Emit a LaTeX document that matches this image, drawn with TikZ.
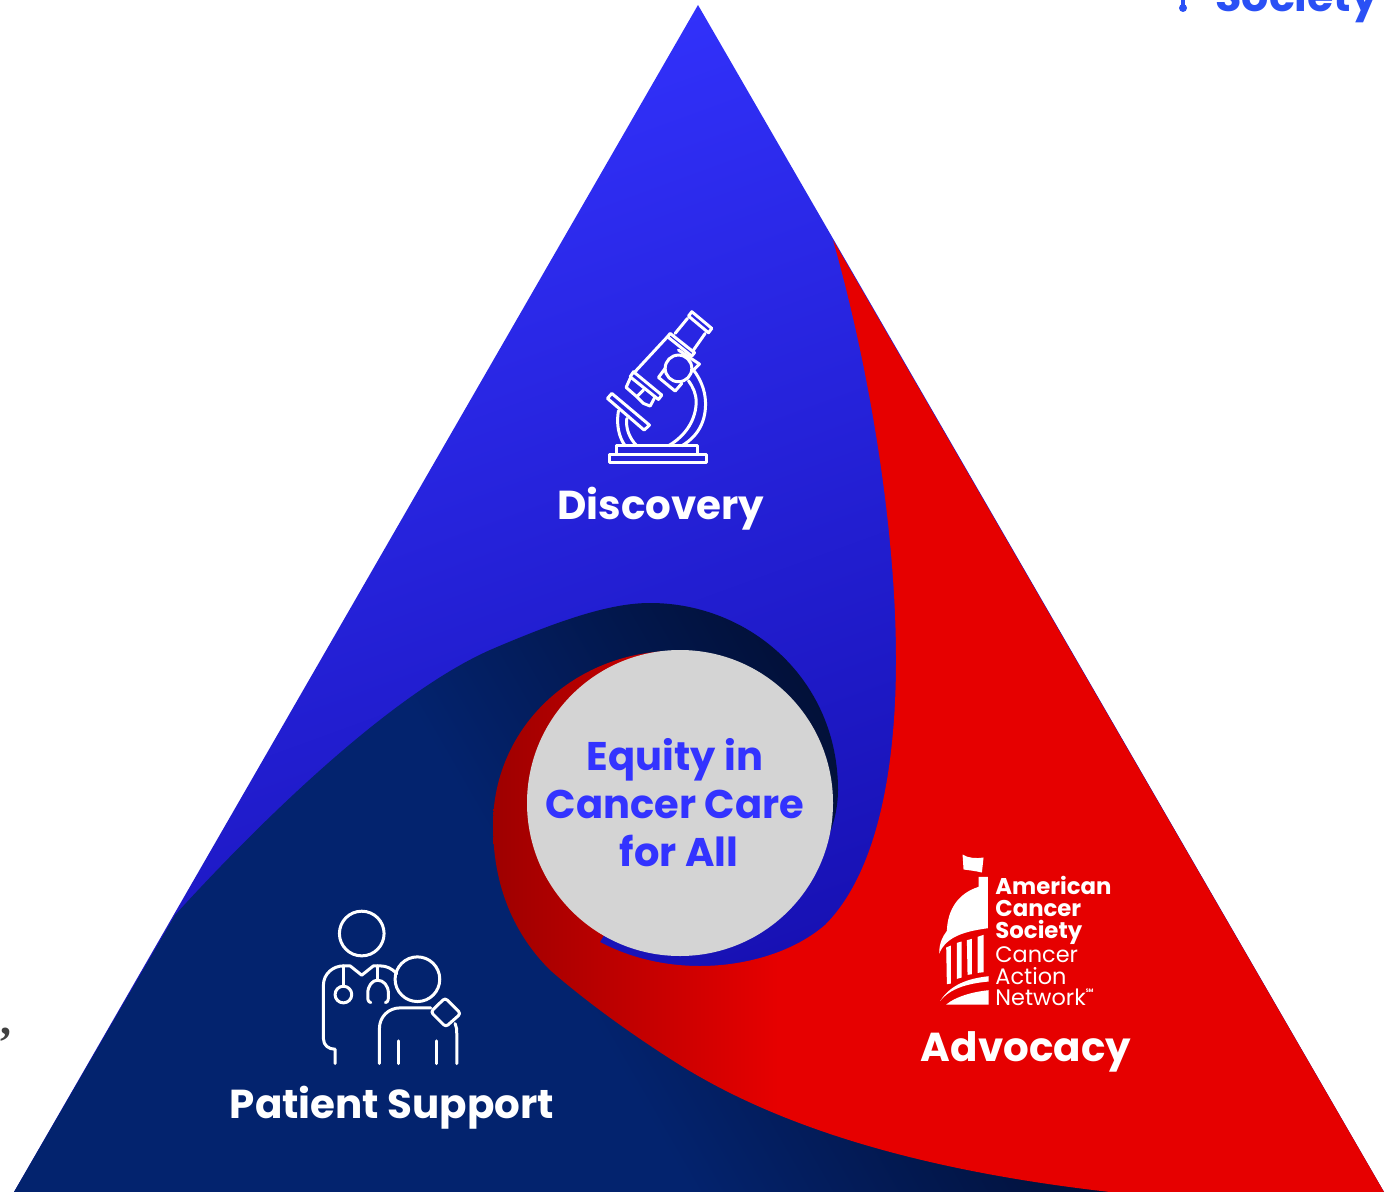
\documentclass[tikz,border=0pt]{standalone}
\usepackage{fontspec}
\setmainfont{Poppins}
\newfontfamily\commafont{Liberation Serif}
\usetikzlibrary{positioning}
\definecolor{swirlblue}{HTML}{3333FF}
\definecolor{deepblue}{HTML}{1008A0}
\definecolor{swirlred}{HTML}{E60000}
\definecolor{darkred}{HTML}{9E0000}
\definecolor{swirlnavy}{HTML}{03236E}
\definecolor{darknavy}{HTML}{021038}
\definecolor{hubgrey}{HTML}{D4D4D4}
\definecolor{logoblue}{HTML}{2A50F5}
\pgfdeclarehorizontalshading{redswirl}{100bp}{color(0bp)=(darkred); color(25bp)=(darkred); color(41bp)=(swirlred); color(100bp)=(swirlred)}
\pgfdeclarehorizontalshading{navyswirl}{100bp}{color(0bp)=(swirlnavy); color(48bp)=(swirlnavy); color(68bp)=(darknavy); color(100bp)=(darknavy)}
\tikzset{
  title/.style={text=white, font=\fontsize{20.2}{24}\selectfont\bfseries, inner sep=0pt},
  hubtext/.style={text=swirlblue, font=\fontsize{20}{24}\selectfont\bfseries, align=center, inner sep=0pt},
  logobold/.style={text=white, font=\fontsize{11.4}{13}\selectfont\bfseries, anchor=base west, inner sep=0pt},
  logothin/.style={text=white, font=\fontsize{11.2}{13}\selectfont, anchor=base west, inner sep=0pt},
  icon/.style={draw=white, line width=1.5pt, line join=round, line cap=round},
}
\begin{document}
\begin{tikzpicture}[x=0.5pt, y=-0.5pt]
\useasboundingbox (0,0) rectangle (1396,1192);
% triangle
\shade[top color=swirlblue, bottom color=deepblue, shading angle=20] (698,5) -- (1384,1192) -- (14,1192) -- cycle;
% navy swirl
\shade[shading=navyswirl, shading angle=30] (175,915) .. controls (280,800) and (400,690) .. (490,650)
  .. controls (560,620) and (610,603) .. (650,603)
  .. controls (750,603) and (838,680) .. (838,790)
  .. controls (838,805) and (835,820) .. (829,835)
  -- (680,800) -- (590,880) -- (560,960) -- (1110,1192) -- (14,1192) -- cycle;
% red swirl
\shade[shading=redswirl] (833,240) -- (1384,1192) -- (1110,1192)
  .. controls (960,1175) and (800,1140) .. (680,1065)
  .. controls (640,1040) and (590,1005) .. (550,970)
  .. controls (510,930) and (493,880) .. (493,825)
  .. controls (493,730) and (570,655) .. (668,651)
  -- (680,800) -- (600,942)
  .. controls (630,958) and (665,966) .. (700,966)
  .. controls (740,966) and (790,955) .. (825,925)
  .. controls (880,870) and (896,760) .. (896,660)
  .. controls (896,530) and (870,370) .. (833,240) -- cycle;
% hub
\node[circle, fill=hubgrey, minimum size=153pt, inner sep=0pt] (hub) at (680,803) {};
\node[hubtext] (equity) at (675,803) {Equity in\\Cancer Care\\\hspace*{4pt}for All};
% microscope
\begin{scope}[x=0.1667pt, y=-0.1667pt, shift={(1740,870)}, icon]
\draw (87,492) rectangle (378,518);
\draw (110,492) -- (110,467) -- (353,467) -- (353,492);
\draw (95,310) -- (208,405) -- (192,420) -- (82,325) -- cycle;
\draw (115,362) .. controls (108,400) and (115,440) .. (135,467);
\draw (140,385) .. controls (136,415) and (148,445) .. (170,467);
\draw (305,467) .. controls (360,435) and (378,385) .. (376,335) .. controls (375,300) and (360,265) .. (340,240);
\draw (265,467) .. controls (320,435) and (348,385) .. (348,335) .. controls (348,310) and (338,290) .. (325,272);
\draw (335,65) -- (395,115) -- (385,128) -- (325,78) -- cycle;
\draw (322,85) -- (285,130);
\draw (375,130) -- (340,180);
\draw (270,130) -- (343,188) -- (335,198) -- (262,140) -- cycle;
\draw (262,140) -- (160,250);
\draw (160,245) -- (245,315) -- (235,328) -- (150,260) -- cycle;
\draw (295,180) -- (358,222) -- (340,240);
\draw (255,235) -- (235,262) -- (285,303) -- (305,280);
\draw (150,265) -- (138,292) -- (170,320) -- (190,300);
\draw (170,320) -- (190,340) -- (210,348) -- (225,320);
\draw (295,235) circle (40);
\end{scope}
\node[title] (discovery) at (661,509) {Discovery};
% patient support icon
\begin{scope}[x=0.1667pt, y=-0.1667pt, shift={(900,2685)}, icon]
\draw (185,115) circle (67);
\draw (352,252) circle (67);
\draw (105,505) -- (105,462) .. controls (85,462) and (70,450) .. (70,430) -- (70,270)
  .. controls (70,235) and (100,212) .. (130,212) -- (150,212) -- (185,240) -- (220,212) -- (240,212)
  .. controls (260,212) and (275,220) .. (290,235);
\draw (130,212) -- (130,272);
\draw (130,298) circle (25);
\draw (232,212) -- (232,255);
\draw (212,322) .. controls (202,320) and (203,310) .. (203,295) .. controls (203,270) and (218,255) .. (232,255)
  .. controls (250,255) and (265,270) .. (265,295) .. controls (265,310) and (266,320) .. (256,322);
\draw (238,505) -- (238,400) .. controls (238,365) and (265,338) .. (300,338) -- (392,338);
\draw[rounded corners=1.5pt] (435,308) -- (482,355) -- (437,395) -- (392,350) -- cycle;
\draw (465,385) .. controls (470,395) and (470,405) .. (470,415) -- (470,505);
\draw (295,437) -- (295,505);
\draw (410,437) -- (410,505);
\end{scope}
\node[title] (support) at (392,1108) {Patient Support};
% capitol logo
\begin{scope}[x=0.1667pt, y=-0.1667pt, shift={(2760,2520)}]
\fill[white] (127,43) .. controls (145,55) and (170,55) .. (190,52) -- (185,97) .. controls (165,92) and (145,90) .. (130,88) -- cycle;
\fill[white] (175,110) -- (203,110) -- (203,264) .. controls (130,274) and (78,290) .. (57,340)
  .. controls (57,310) and (66,290) .. (80,272) .. controls (82,210) and (112,160) .. (175,140) -- cycle;
\fill[white] (78,322) -- (92,316) -- (92,430) -- (80,432) -- cycle;
\fill[white] (110,308) -- (124,304) -- (124,412) -- (110,416) -- cycle;
\fill[white] (140,300) -- (155,296) -- (155,402) -- (142,404) -- cycle;
\fill[white] (172,290) -- (190,284) -- (190,396) -- (172,398) -- cycle;
\fill[white] (60,482) .. controls (90,435) and (140,415) .. (205,408) -- (205,424) .. controls (140,430) and (90,445) .. (60,482) -- cycle;
\fill[white] (78,493) .. controls (105,470) and (155,455) .. (205,450) -- (205,493) -- cycle;
\end{scope}
\node[logobold] (american) at (995,894) {American};
\node[logobold] (cancerb) at (995,916) {Cancer};
\node[logobold] (society) at (995,938) {Society};
\node[logothin] (cancerl) at (995,962) {Cancer};
\node[logothin] (action) at (995,984) {Action};
\node[logothin] (network) at (995,1005) {Network\raisebox{6.5pt}{\fontsize{2.5}{3}\selectfont\bfseries SM}};
\node[title] (advocacy) at (1026,1052) {Advocacy};
% cut off bits along the edges
\node[text=logoblue, font=\fontsize{21.4}{26}\selectfont\bfseries, anchor=base west, inner sep=0pt] (topword) at (1215,12) {Society};
\fill[logoblue] (1183,8) circle (4);
\fill[logoblue] (1181,0) rectangle (1185,8);
\node[text=black!75, font=\fontsize{22}{24}\commafont\bfseries, anchor=base, inner sep=0pt] (comma) at (6,1034) {,};
\end{tikzpicture}
\end{document}
